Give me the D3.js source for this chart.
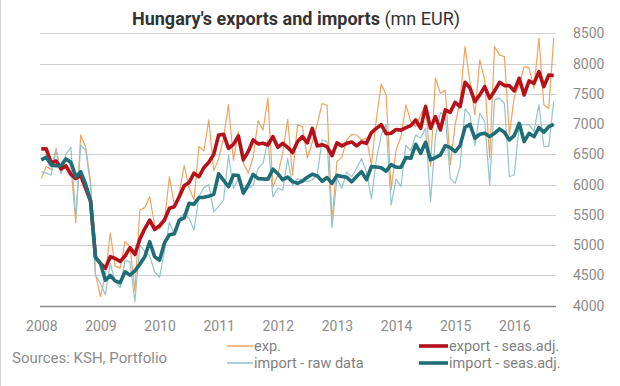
<!DOCTYPE html>
<html>
<head>
<meta charset="utf-8">
<script src="https://cdnjs.cloudflare.com/ajax/libs/d3/7.8.5/d3.min.js"></script>
<style>
  body { margin: 0; background: #fff; }
  text { font-family: Roboto, "Noto Sans", sans-serif; }
</style>
</head>
<body>
<div id="chart"></div>
<script>
// monthly data, Jan 2008 - Sep 2016 (mn EUR)
var yearLabels = ["2008", "2009", "2010", "2011", "2012", "2013", "2014", "2015", "2016"];
var yTicks = [4000, 4500, 5000, 5500, 6000, 6500, 7000, 7500, 8000, 8500];

var exportRaw = [6100,6300,6250,6600,6180,6430,6320,5370,6820,6620,6050,4520,
  4150,4500,5200,4650,4620,5060,4980,4240,5580,5620,5800,5330,
  5270,5390,6130,5660,5860,6320,5940,5750,6630,6560,7070,6230,
  6430,6780,7320,6400,6870,6360,6190,6450,7060,6900,7430,5960,
  6160,6520,7080,6160,6990,6960,6440,6700,7000,7340,7310,5400,
  6380,6450,6740,6830,6820,6740,6770,6320,7080,7660,7480,5910,
  6570,6790,7320,7040,6960,7150,7330,6300,7760,7510,7560,6330,
  6990,7380,8280,7700,7150,8060,7730,6440,8280,8140,8115,6820,
  7450,7650,7950,7930,7590,8420,7320,7260,8420];

var importRaw = [6210,6190,6160,6570,6190,6500,6620,5450,6650,6570,5990,4500,
  4370,4180,4700,4390,4300,4750,4720,4070,5000,4900,4820,4560,
  4470,4900,5380,5170,5440,5520,5440,5250,5800,5950,6000,5550,
  5640,5750,6490,5940,6100,5830,5940,5990,6270,6350,6740,5800,
  5940,5910,6435,5990,6100,6080,6050,6080,6160,6740,6710,5290,
  6100,5940,6210,6130,6270,6430,6210,5770,6410,6820,6990,5660,
  6090,5970,6650,6560,6820,6770,6930,5720,6790,7190,7150,6100,
  6020,6300,7250,7150,6650,7180,7040,6000,7400,7430,7340,6130,
  6160,6990,6990,6990,6880,7320,6630,6630,7380];

var exportSA = [6590,6590,6360,6390,6260,6310,6170,6100,6150,5940,5730,4800,
  4700,4620,4810,4780,4730,4820,4960,4845,5100,5270,5415,5260,
  5320,5415,5610,5635,5800,5980,6035,6190,6130,6280,6370,6500,
  6820,6830,6600,6666,6804,6408,6545,6738,6672,6683,6655,6793,
  6617,6683,6617,6530,6710,6793,6690,6930,6640,6660,6627,6480,
  6690,6640,6682,6705,6640,6705,6682,6860,6930,6990,6842,6848,
  6910,6900,6942,6975,7068,6931,7289,6931,7124,6903,7234,7195,
  7360,7289,7690,7600,7371,7482,7619,7426,7548,7691,7636,7636,
  7548,7757,7482,7713,7674,7867,7619,7812,7801];

var importSA = [6407,6455,6324,6313,6313,6425,6370,6131,6214,6008,5730,4800,
  4700,4420,4500,4410,4380,4560,4505,4575,4685,4810,5057,4810,
  4750,5040,5170,5187,5415,5450,5690,5677,5787,5790,5810,5840,
  6180,6070,5965,6160,6150,5860,5995,6170,6100,6095,6090,6255,
  6180,6080,6125,6050,6020,6057,6123,6172,6145,6055,6117,6020,
  6153,6136,6123,6046,6134,6213,6082,6297,6290,6278,6222,6330,
  6288,6288,6446,6435,6666,6518,6700,6408,6446,6490,6644,6611,
  6545,6644,6945,6997,6766,6832,6848,6793,6848,6920,6865,6738,
  6810,7013,6711,6848,6793,6942,6865,6958,6997];

var seriesNames = ["exp.", "import - raw data", "export - seas.adj.", "import - seas.adj."];
var seriesColors = ["#f2a35f", "#92c5cb", "#b5111b", "#1f6e77"];
var seriesWidths = [1.2, 1.2, 3.6, 3.6];

//Settings
var width = 620;
var height = 386;
var plotLeft = 40;
var plotRight = 556;

var svg = d3.select("#chart").append("svg").attr("width", width).attr("height", height);
svg.append("rect").attr("width", width).attr("height", height).attr("fill", "#fff");
svg.append("line").attr("x1", 0.5).attr("x2", 0.5).attr("y1", 0).attr("y2", height).attr("stroke", "#d4d4d4");

//Scales
var months = d3.range(exportRaw.length);
var x = d3.scalePoint().domain(months).range([41.3, 553.7]);
var y = d3.scaleLinear().domain([4000, 8500]).range([305.7, 33.3]);

//Gridlines
svg.append("g").selectAll("line").data(yTicks).join("line")
    .attr("x1", plotLeft).attr("x2", plotRight)
    .attr("y1", d => Math.round(y(d)) + 0.5).attr("y2", d => Math.round(y(d)) + 0.5)
    .attr("stroke", d => d == 4000 ? "#8a8a8a" : "#d0d0d0")
    .attr("stroke-width", d => d == 4000 ? 1.5 : 1);

//Y axis labels
var yAxis = svg.append("g").attr("transform", "translate(566,0)")
    .call(d3.axisRight(y).tickValues(yTicks).tickSize(0).tickPadding(7).tickFormat(d3.format("d")));
yAxis.select(".domain").remove();
yAxis.selectAll("text").attr("fill", "#8c8c8c").style("font-size", "14px").style("font-family", "Roboto");

//X axis labels (January of each year)
var janIdx = yearLabels.map((d, i) => i * 12);
var xAxis = svg.append("g").attr("transform", "translate(0,306)")
    .call(d3.axisBottom(x).tickValues(janIdx).tickSize(0).tickPadding(15).tickFormat((d, i) => yearLabels[i]));
xAxis.select(".domain").remove();
xAxis.selectAll("text").attr("fill", "#8c8c8c").style("font-size", "14px").style("font-family", "Roboto");

//Lines
var allSeries = [exportRaw, importRaw, exportSA, importSA];
var line = d3.line().x((d, i) => x(i)).y(d => y(d));
allSeries.forEach((s, k) => {
    svg.append("path").datum(s)
        .attr("d", line)
        .attr("fill", "none")
        .attr("stroke", seriesColors[k])
        .attr("stroke-width", seriesWidths[k])
        .attr("stroke-linejoin", "round");
});

//Title
var title = svg.append("text").attr("x", 296).attr("y", 25).attr("text-anchor", "middle")
    .attr("fill", "#333").style("font-size", "18px");
title.append("tspan").attr("font-weight", "bold").text("Hungary's exports and imports");
title.append("tspan").text(" (mn EUR)");

//Legend
var legendPos = [[227, 346], [227, 363], [419, 346], [419, 363]];
seriesNames.forEach((name, k) => {
    var lg = svg.append("g").attr("transform", "translate(" + legendPos[k][0] + "," + legendPos[k][1] + ")");
    lg.append("line").attr("x1", 0).attr("x2", k < 2 ? 26 : 29).attr("y1", 0).attr("y2", 0)
        .attr("stroke", seriesColors[k]).attr("stroke-width", k < 2 ? 1.5 : 3.6);
    lg.append("text").attr("x", k < 2 ? 27 : 30).attr("y", 5).attr("fill", "#7f7f7f")
        .style("font-size", "14.5px").text(name);
});

//Source
svg.append("text").attr("x", 12).attr("y", 363).attr("fill", "#8c8c8c").style("font-size", "15px")
    .text("Sources: KSH, Portfolio");
</script>
</body>
</html>
